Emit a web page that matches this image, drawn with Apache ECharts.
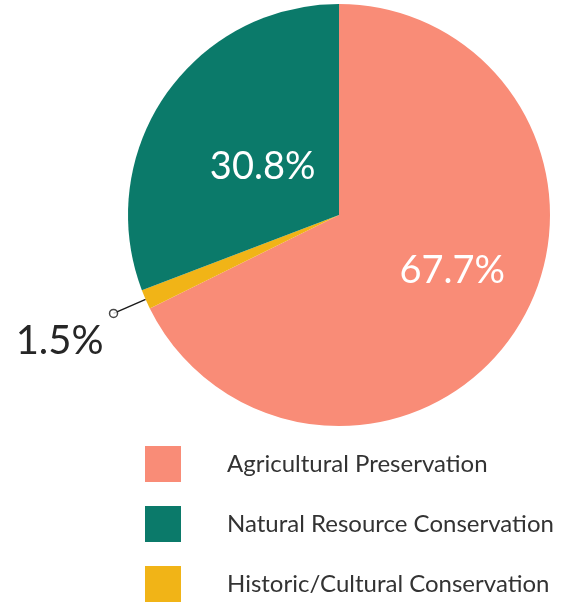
<!DOCTYPE html>
<html>
<head>
<meta charset="utf-8">
<script src="https://cdn.jsdelivr.net/npm/echarts@6/dist/echarts.min.js"></script>
<style>
html,body{margin:0;padding:0;background:#fff;}
#chart{width:568px;height:603px;}
</style>
</head>
<body>
<div id="chart"></div>
<script>
// Data (slice order clockwise from 12 o'clock)
const categories = ['Agricultural Preservation', 'Historic/Cultural Conservation', 'Natural Resource Conservation'];
const values = [67.7, 1.5, 30.8];
const legendOrder = ['Agricultural Preservation', 'Natural Resource Conservation', 'Historic/Cultural Conservation'];
const colors = ['#F98C77', '#F1B417', '#0B7A6A'];

const FONT = 'Lato, "Open Sans", sans-serif';
const center = [339, 215];
const R = 211;
const lineLen = 35;

const total = values.reduce((a, b) => a + b, 0);
// cumulative mid value of the outside-labelled slice (index 1)
let cum = 0;
for (let i = 0; i < 1; i++) cum += values[i];
const midVal = cum + values[1] / 2;

const pieData = categories.map((name, i) => {
  const d = { name: name, value: values[i], itemStyle: { color: colors[i] } };
  if (i === 1) {
    d.label = {
      show: true, position: 'outside', color: '#262626', fontSize: 40,
      fontFamily: FONT, formatter: '{c}%'
    };
    d.labelLine = { show: true, length: lineLen, length2: 0, lineStyle: { color: '#1a1a1a', width: 1.5 } };
  } else {
    d.label = {
      show: true, position: 'inside', color: '#ffffff', fontSize: 38,
      fontFamily: FONT, formatter: '{c}%',
      offset: i === 0 ? [21, -2] : [13, 13]
    };
    d.labelLine = { show: false };
  }
  return d;
});

const chart = echarts.init(document.getElementById('chart'), null, { renderer: 'canvas' });
chart.setOption({
  backgroundColor: '#ffffff',
  animation: false,
  legend: {
    orient: 'vertical',
    left: 145,
    top: 446,
    height: 157,
    padding: 0,
    data: legendOrder,
    icon: 'rect',
    itemWidth: 36,
    itemHeight: 36,
    itemGap: 24,
    textStyle: { fontSize: 24, color: '#333333', fontFamily: FONT, padding: [3, 0, 0, 41] },
    selectedMode: false
  },
  polar: { center: center, radius: R + lineLen },
  angleAxis: { type: 'value', min: 0, max: total, startAngle: 90, clockwise: true, show: false },
  radiusAxis: { type: 'value', min: 0, max: 1, show: false },
  series: [
    {
      type: 'pie',
      center: center,
      radius: [0, R],
      startAngle: 90,
      clockwise: true,
      avoidLabelOverlap: false,
      data: pieData,
      emphasis: { disabled: true },
      labelLayout: function (params) {
        if (params.dataIndex === 1) {
          return { dx: -5, dy: 28, labelLinePoints: params.labelLinePoints };
        }
        return {};
      }
    },
    {
      type: 'scatter',
      coordinateSystem: 'polar',
      data: [[1, midVal]],
      symbol: 'circle',
      symbolSize: 8,
      itemStyle: { color: '#ffffff', borderColor: '#1a1a1a', borderWidth: 1.5 },
      z: 5,
      silent: true
    }
  ]
});
</script>
</body>
</html>
